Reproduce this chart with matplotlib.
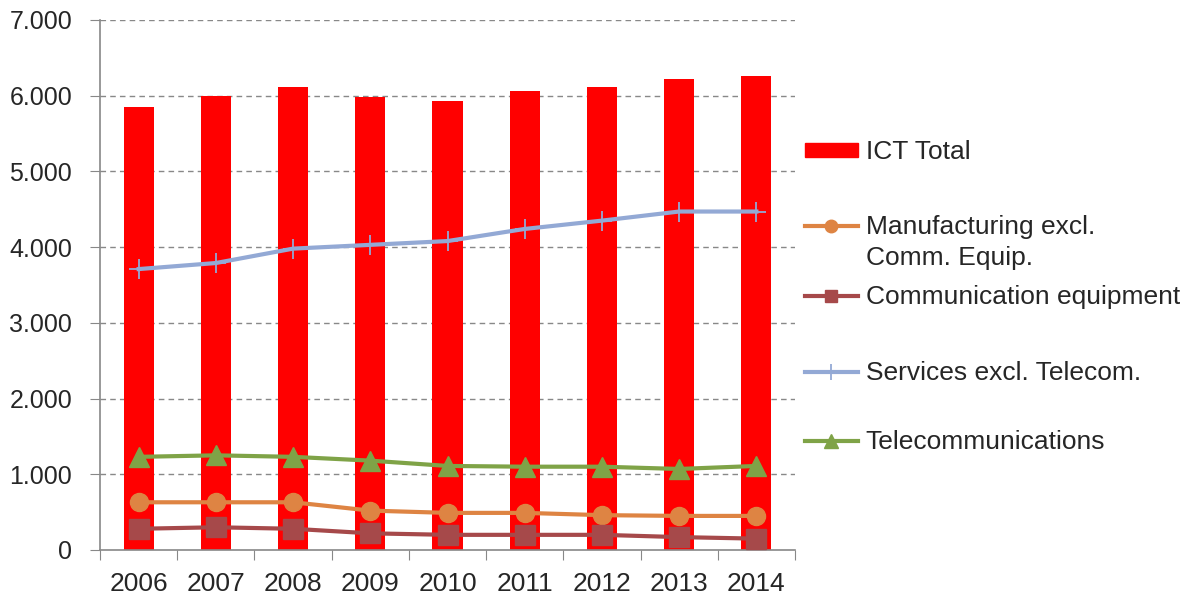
import matplotlib
matplotlib.use("Agg")
import matplotlib.pyplot as plt
from matplotlib.lines import Line2D
from matplotlib.patches import Patch
import numpy as np

plt.rcParams['font.family'] = ['Liberation Sans', 'DejaVu Sans']
plt.rcParams['text.color'] = '#262626'
plt.rcParams['xtick.labelcolor'] = '#262626'
plt.rcParams['ytick.labelcolor'] = '#262626'

years = ['2006', '2007', '2008', '2009', '2010', '2011', '2012', '2013', '2014']
ict_total = [5850, 6000, 6120, 5980, 5930, 6060, 6120, 6220, 6260]
manufacturing = [630, 630, 630, 520, 490, 490, 460, 450, 450]
comm_equipment = [280, 300, 280, 220, 200, 200, 200, 170, 150]
services = [3710, 3790, 3980, 4030, 4080, 4240, 4350, 4470, 4470]
telecom = [1230, 1250, 1230, 1180, 1110, 1100, 1100, 1070, 1110]

red = '#FF0000'
orange = '#DE8443'
brown = '#A6494A'
blue = '#93A9D5'
green = '#7FA347'

x = np.arange(len(years))

fig = plt.figure(figsize=(11.94, 5.98), dpi=100)
ax = fig.add_axes([0.0838, 0.0803, 0.582, 0.8863])

ax.bar(x, ict_total, width=0.39, color=red, zorder=2)
ax.plot(x, manufacturing, color=orange, lw=3, marker='o', ms=13, zorder=3)
ax.plot(x, comm_equipment, color=brown, lw=3, marker='s', ms=14, zorder=3)
ax.plot(x, services, color=blue, lw=3, marker='+', ms=14, mew=1.3, zorder=3)
ax.plot(x, telecom, color=green, lw=3, marker='^', ms=15, zorder=3)

ax.set_xlim(-0.5, len(years) - 0.5)
ax.set_ylim(0, 7000)
ax.set_yticks(np.arange(0, 7001, 1000))
ax.set_yticklabels(['0'] + ['{:d}.000'.format(v) for v in range(1, 8)])
ax.set_xticks(np.arange(-0.5, len(years)), labels=[])
ax.set_xticks(x, minor=True)
ax.set_xticklabels(years, minor=True)
ax.tick_params(axis='x', which='minor', length=0, pad=16, labelsize=19)
ax.tick_params(axis='x', which='major', length=7, color='#888888')
ax.tick_params(axis='y', length=7, color='#888888', labelsize=18, pad=13)

ax.yaxis.grid(True, ls=(0, (4, 3)), color='#888888', lw=1, zorder=0)
ax.get_ygridlines()[0].set_visible(False)
ax.set_axisbelow(True)
for s in ['top', 'right']:
    ax.spines[s].set_visible(False)
for s in ['left', 'bottom']:
    ax.spines[s].set_color('#888888')
    ax.spines[s].set_linewidth(1.2)

# legend built entry by entry so the spacing follows the reference
entries = [
    (Patch(color=red), 'ICT Total', 152),
    (Line2D([], [], color=orange, lw=3, marker='o', ms=9), 'Manufacturing excl.', 227),
    (Line2D([], [], color=brown, lw=3, marker='s', ms=9), 'Communication equipment', 297),
    (Line2D([], [], color=blue, lw=3, marker='+', ms=11, mew=1.3), 'Services excl. Telecom.', 373),
    (Line2D([], [], color=green, lw=3, marker='^', ms=10), 'Telecommunications', 442),
]
for h, label, ypix in entries:
    fig.legend(handles=[h], labels=[label], loc='center left',
               bbox_to_anchor=(805 / 1194, 1 - ypix / 598), frameon=False,
               fontsize=19, handlelength=2.0, handleheight=0.45,
               handletextpad=0.3, borderpad=0, borderaxespad=0)
fig.text(866 / 1194, 1 - 258 / 598, 'Comm. Equip.', fontsize=19, va='center')

fig.savefig('out.png', dpi=100)
